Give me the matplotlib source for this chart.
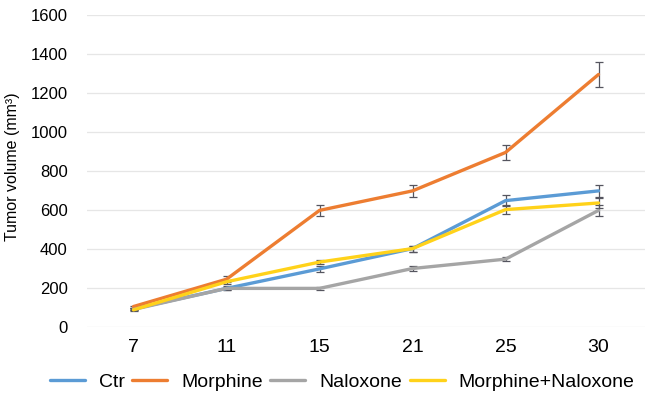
import numpy as np
import matplotlib
matplotlib.use("Agg")
import matplotlib.pyplot as plt

plt.rcParams["font.family"] = ["Liberation Sans", "DejaVu Sans"]

# ------------------------------------------------------------
# data
# ------------------------------------------------------------
days = ["7", "11", "15", "21", "25", "30"]

ctr = [93, 198, 298, 402, 648, 698]
morphine = [105, 245, 598, 698, 895, 1295]
naloxone = [90, 198, 198, 300, 348, 598]
morph_nalox = [88, 232, 333, 402, 602, 636]

ctr_err = [5, 10, 15, 15, 30, 32]
morphine_err = [5, 15, 30, 30, 40, 65]
naloxone_err = [5, 8, 8, 12, 12, 30]
morph_nalox_err = [5, 10, 12, 15, 25, 25]

labels = ["Ctr", "Morphine", "Naloxone", "Morphine+Naloxone"]
colors = ["#5B9BD5", "#ED7D31", "#A5A5A5", "#FFD21A"]

# ------------------------------------------------------------
# plot
# ------------------------------------------------------------
fig = plt.figure(figsize=(6.46, 4.08), dpi=100)
ax = fig.add_axes([87 / 646, 81 / 408, 558 / 646, 312 / 408])

x = np.arange(len(days))
series = [ctr, morphine, naloxone, morph_nalox]
errors = [ctr_err, morphine_err, naloxone_err, morph_nalox_err]

handles = []
for vals, errs, col, lab in zip(series, errors, colors, labels):
    ax.errorbar(x, vals, yerr=errs, fmt="none", ecolor="#55555f",
                elinewidth=0.9, capsize=3, capthick=0.9, zorder=3)
    h, = ax.plot(x, vals, color=col, linewidth=2.4, label=lab,
                 solid_capstyle="round", zorder=4)
    handles.append(h)

ax.set_xlim(-0.5, len(days) - 0.5)
ax.set_ylim(0, 1600)
ax.set_yticks(np.arange(0, 1601, 200))
ax.set_xticks(x)
ax.set_xticklabels(days, fontsize=14)
ax.tick_params(axis="y", labelsize=12, length=0, pad=14)
ax.tick_params(axis="x", length=0, pad=9)

ax.grid(axis="y", color="#e6e6e6", linewidth=0.9)
ax.set_axisbelow(True)
for s in ax.spines.values():
    s.set_visible(False)

fig.text(13 / 646, 1 - 167 / 408, "Tumor volume (mm³)", rotation=90,
         fontsize=11.5, ha="center", va="center")

fig.legend(handles=handles, loc="center", ncol=4,
           bbox_to_anchor=(342 / 646, 1 - 382 / 408), frameon=False,
           fontsize=14, handlelength=1.8, handletextpad=0.7,
           columnspacing=0.4, borderaxespad=0, borderpad=0)

fig.savefig("out.png", dpi=100)
